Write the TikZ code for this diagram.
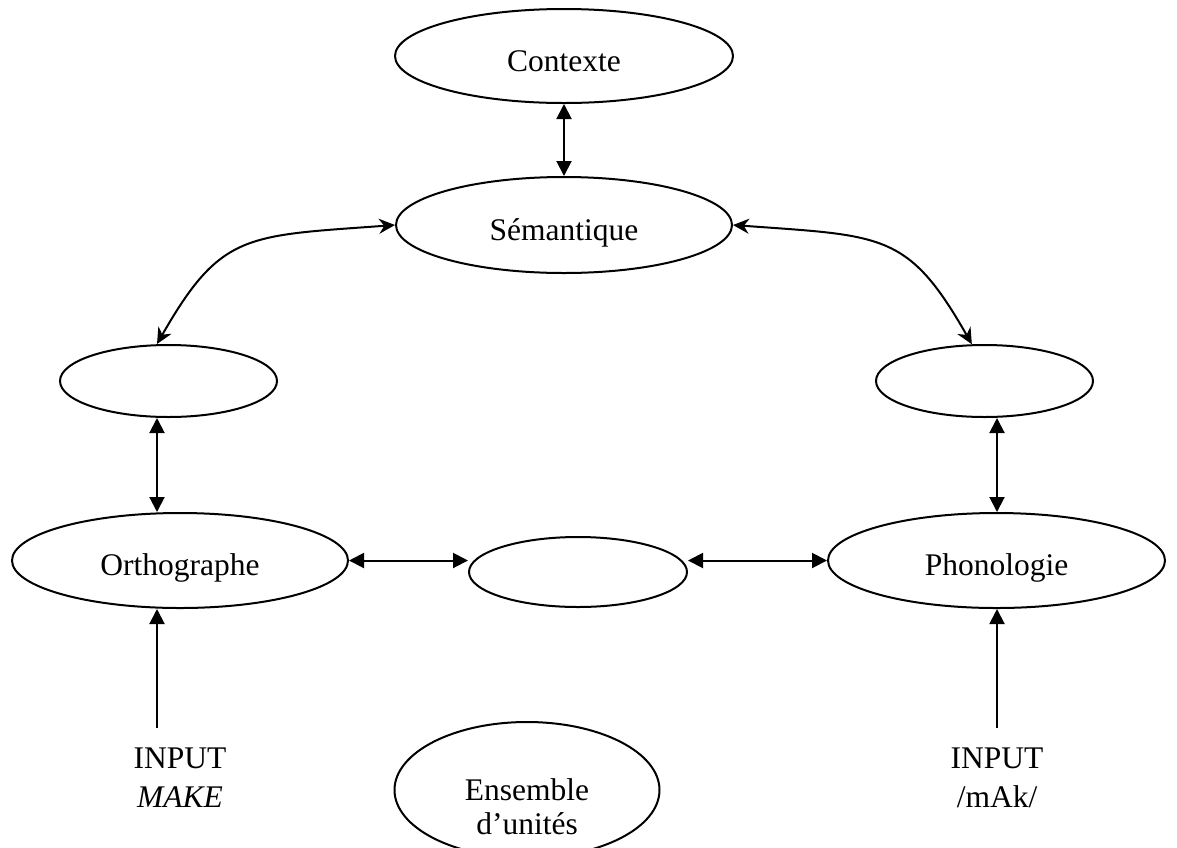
\documentclass[tikz,border=0pt]{standalone}
\usepackage{fontspec}
\setmainfont{Liberation Serif}
\usetikzlibrary{shapes.geometric,arrows.meta}
\begin{document}
\begin{tikzpicture}[x=1pt,y=-1pt,
  bubble/.style={draw, ellipse, line width=2pt, inner sep=0pt, font=\fontsize{31.5}{36}\selectfont},
  oneline/.style={text height=30pt, text depth=0pt},
  link/.style={line width=2pt, {Triangle[length=15pt,width=15pt]}-{Triangle[length=15pt,width=15pt]}},
  feed/.style={line width=2pt, -{Triangle[length=15pt,width=15pt]}},
  curved/.style={line width=2pt, {Stealth[length=16pt,width=15pt]}-{Stealth[length=16pt,width=15pt]}},
  inputtext/.style={font=\fontsize{31.5}{39}\selectfont, inner sep=0pt, anchor=base}
]
\clip (0,0) rectangle (1177,847);

\node[bubble, oneline, minimum width=338pt, minimum height=94pt] (ctx) at (564,56) {Contexte};
\node[bubble, oneline, minimum width=336pt, minimum height=96pt] (sem) at (564,225) {Sémantique};
\node[bubble, minimum width=217pt, minimum height=72pt] (lo) at (168.5,381) {};
\node[bubble, minimum width=217pt, minimum height=72pt] (ro) at (984.5,381) {};
\node[bubble, oneline, minimum width=336pt, minimum height=95pt] (ortho) at (180,560.5) {Orthographe};
\node[bubble, minimum width=218pt, minimum height=70pt] (mid) at (578,572) {};
\node[bubble, oneline, minimum width=337pt, minimum height=95pt] (phono) at (996.5,560.5) {Phonologie};
\node[bubble, minimum width=265pt, minimum height=136pt] (ens) at (527,790)
  {\raisebox{-44pt}[0pt][0pt]{\fontsize{31.5}{34}\selectfont\begin{tabular}[b]{@{}c@{}}Ensemble\\d’unités\end{tabular}}};

\node[inputtext] (inpL) at (180,768) {\begin{tabular}[t]{@{}c@{}}INPUT\\\textit{MAKE}\end{tabular}};
\node[inputtext] (inpR) at (997,768) {\begin{tabular}[t]{@{}c@{}}INPUT\\/mAk/\end{tabular}};

\coordinate (tailL) at (157,728);
\coordinate (tailR) at (997,728);

\draw[link] (ctx.south) -- (sem.north);
\draw[curved] (lo.north -| tailL) .. controls (221,232) and (246,236) .. (sem.west);
\draw[curved] (sem.east) .. controls (883,236) and (908,232) .. (ro.109);
\draw[link] (lo.south -| tailL) -- (ortho.north -| tailL);
\draw[link] (ro.south -| tailR) -- (phono.north -| tailR);
\draw[link] (ortho.east) -- (ortho.east -| mid.west);
\draw[link] (mid.east |- phono.west) -- (phono.west);
\draw[feed] (tailL) -- (tailL |- ortho.south);
\draw[feed] (tailR) -- (tailR |- phono.south);
\end{tikzpicture}
\end{document}
